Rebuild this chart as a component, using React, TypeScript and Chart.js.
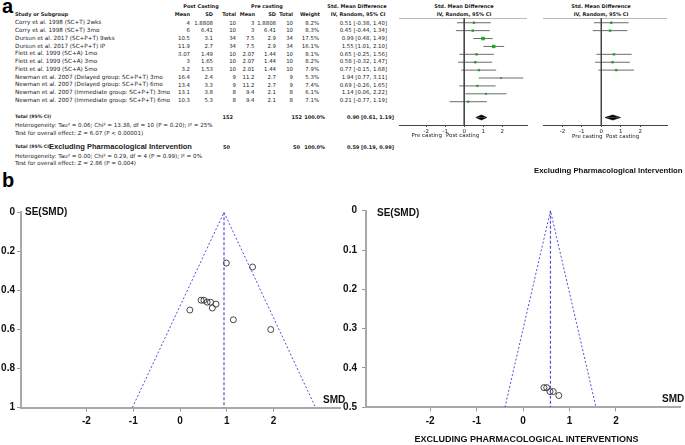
import React, { useEffect, useRef } from 'react';
import { Chart, registerables } from 'chart.js';
Chart.register(...registerables);

// ---------------- DATA ----------------
const studies = [
  'Corry et al. 1998 (SC+T) 2wks',
  'Corry et al. 1998 (SC+T) 3mo',
  'Dursun et al. 2017 (SC+P+T) 9wks',
  'Dursun et al. 2017 (SC+P+T) IP',
  'Flett et al. 1999 (SC+A) 1mo',
  'Flett et al. 1999 (SC+A) 3mo',
  'Flett et al. 1999 (SC+A) 5mo',
  'Newman et al. 2007 (Delayed group: SC+P+T) 3mo',
  'Newman et al. 2007 (Delayed group: SC+P+T) 6mo',
  'Newman et al. 2007 (Immediate group: SC+P+T) 3mo',
  'Newman et al. 2007 (Immediate group: SC+P+T) 6mo',
];
const postMean = ['4', '6', '10.5', '11.9', '3.07', '3', '3.2', '16.4', '13.4', '13.1', '10.3'];
const postSD = ['1.8808', '6.41', '3.1', '2.7', '1.49', '1.65', '1.53', '2.4', '3.3', '3.8', '5.3'];
const postTotal = ['10', '10', '34', '34', '10', '10', '10', '9', '9', '8', '8'];
const preMean = ['3', '3', '7.5', '7.5', '2.07', '2.07', '2.01', '11.2', '11.2', '9.4', '9.4'];
const preSD = ['1.8808', '6.41', '2.9', '2.9', '1.44', '1.44', '1.44', '2.7', '2.7', '2.1', '2.1'];
const preTotal = ['10', '10', '34', '34', '10', '10', '10', '9', '9', '8', '8'];
const weight = [8.2, 8.3, 17.5, 16.1, 8.1, 8.2, 7.9, 5.3, 7.4, 6.1, 7.1];
const smd = [0.51, 0.45, 0.99, 1.55, 0.65, 0.58, 0.77, 1.94, 0.69, 1.14, 0.21];
const ciLow = [-0.38, -0.44, 0.48, 1.01, -0.25, -0.32, -0.15, 0.77, -0.26, 0.06, -0.77];
const ciHigh = [1.4, 1.34, 1.49, 2.1, 1.56, 1.47, 1.68, 3.11, 1.65, 2.22, 1.19];
const seSMD = [0.45, 0.45, 0.26, 0.28, 0.46, 0.46, 0.47, 0.6, 0.49, 0.55, 0.5];

const allIdx = [0, 1, 2, 3, 4, 5, 6, 7, 8, 9, 10];
const nonPharmIdx = [0, 1, 4, 5, 6];

const pooledAll = [0.9, 0.61, 1.19]; // est, low, high
const pooledExcl = [0.59, 0.19, 0.99];

const forestTicks = [-2, -1, 0, 1, 2];
const funnelTicks = [-2, -1, 0, 1, 2];

const funnel1Center = 0.94;
const funnel1Limits = [-1.02, 2.9];
const funnel1SeMax = 1;
const funnel2Center = 0.59;
const funnel2Limits = [-0.39, 1.57];
const funnel2SeMax = 0.5;

// ---------------- STYLE ----------------
const TF = '"DejaVu Sans", Verdana, sans-serif';
const BF = '"Liberation Sans", Arial, sans-serif';
const TXT = '#222';
const ROW = 5.7;
const NUM = 5.4;
const HDR = 5.0;

type TProps = {
  x: number; y: number; size?: number; bold?: boolean; align?: 'left' | 'right' | 'center';
  family?: string; color?: string; children: React.ReactNode;
};
const T = ({ x, y, size = ROW, bold = false, align = 'left', family = TF, color = TXT, children }: TProps) => (
  <div
    style={{
      position: 'absolute', left: x, top: y - size / 2, fontSize: size, lineHeight: `${size}px`,
      fontFamily: family, fontWeight: bold ? 700 : 400, whiteSpace: 'nowrap', color,
      transform: align === 'right' ? 'translateX(-100%)' : align === 'center' ? 'translateX(-50%)' : undefined,
    }}
  >
    {children}
  </div>
);

function ChartBox({ left, top, width, height, make }: { left: number; top: number; width: number; height: number; make: () => any }) {
  const ref = useRef<HTMLCanvasElement>(null);
  useEffect(() => {
    const chart = new Chart(ref.current as HTMLCanvasElement, make());
    return () => chart.destroy();
  }, []);
  return <canvas ref={ref} width={width} height={height} style={{ position: 'absolute', left, top, width, height }} />;
}

const baseOptions = (padding: any) => ({
  animation: false,
  responsive: false,
  maintainAspectRatio: false,
  events: [],
  layout: { padding },
  elements: { point: { radius: 0 }, line: { tension: 0 } },
  plugins: { legend: { display: false }, tooltip: { enabled: false } },
});

function forestConfig(rows: number[], pooled: number[], xMin: number, xMax: number) {
  const yTop = 0.4;
  const yBot = 13.95;
  const totalRow = 13;
  const dh = 0.32;
  const datasets: any[] = [
    { data: [{ x: xMin, y: yTop }, { x: xMax, y: yTop }], borderColor: '#777', borderWidth: 1 },
    { data: [{ x: 0, y: yTop }, { x: 0, y: yBot }], borderColor: '#444', borderWidth: 1 },
  ];
  rows.forEach((i) => {
    datasets.push({ data: [{ x: ciLow[i], y: i + 1 }, { x: ciHigh[i], y: i + 1 }], borderColor: '#6b6b6b', borderWidth: 1 });
  });
  datasets.push({
    data: rows.map((i) => ({ x: smd[i], y: i + 1 })),
    showLine: false,
    pointStyle: 'rect',
    pointRadius: rows.map((i) => 0.6 * Math.sqrt(weight[i])),
    backgroundColor: '#00c400',
    borderWidth: 0,
  });
  const [est, lo, hi] = pooled;
  datasets.push({
    data: [{ x: lo, y: totalRow }, { x: est, y: totalRow - dh }, { x: hi, y: totalRow }],
    borderColor: '#000', borderWidth: 0.6, backgroundColor: '#000', fill: { value: totalRow },
  });
  datasets.push({
    data: [{ x: lo, y: totalRow }, { x: est, y: totalRow + dh }, { x: hi, y: totalRow }],
    borderColor: '#000', borderWidth: 0.6, backgroundColor: '#000', fill: { value: totalRow },
  });
  return {
    type: 'line',
    data: { datasets },
    options: {
      ...baseOptions({ top: 18, left: 0, right: 0, bottom: 0 }),
      scales: {
        x: {
          type: 'linear', min: xMin, max: xMax,
          afterBuildTicks: (s: any) => { s.ticks = forestTicks.map((v) => ({ value: v })); },
          afterFit: (s: any) => { s.height = 15; },
          ticks: { font: { family: TF, size: 5.5 }, color: TXT, padding: 1, autoSkip: false, maxRotation: 0 },
          grid: { drawOnChartArea: false, tickLength: 2, color: '#444' },
          border: { color: '#444', width: 1 },
        },
        y: { type: 'linear', display: false, reverse: true, min: yTop, max: yBot },
      },
    },
  };
}

function funnelConfig(idx: number[], center: number, limits: number[], seMax: number, step: number,
  xMin: number, xMax: number, padTop: number, padRight: number, xH: number, yW: number, yPad: number) {
  const blue = '#5050dc';
  return {
    type: 'line',
    data: {
      datasets: [
        {
          data: [{ x: limits[0], y: seMax }, { x: center, y: 0 }, { x: limits[1], y: seMax }],
          borderColor: blue, borderWidth: 1, borderDash: [2, 2],
        },
        {
          data: [{ x: center, y: 0 }, { x: center, y: seMax }],
          borderColor: blue, borderWidth: 1.2, borderDash: [3, 2],
        },
        {
          data: idx.map((i) => ({ x: smd[i], y: seSMD[i] })),
          showLine: false, pointStyle: 'circle', pointRadius: 3,
          borderColor: '#333', borderWidth: 0.9, backgroundColor: 'rgba(255,255,255,0)',
        },
      ],
    },
    options: {
      ...baseOptions({ top: padTop, right: padRight, left: 0, bottom: 0 }),
      scales: {
        x: {
          type: 'linear', min: xMin, max: xMax,
          afterBuildTicks: (s: any) => { s.ticks = funnelTicks.map((v) => ({ value: v })); },
          afterFit: (s: any) => { s.height = xH; },
          ticks: { font: { family: BF, size: 10, weight: 'bold' }, color: '#111', padding: 4, autoSkip: false, maxRotation: 0 },
          grid: { drawOnChartArea: false, tickLength: 4, color: '#999' },
          border: { color: '#a8a8a8', width: 2 },
        },
        y: {
          type: 'linear', reverse: true, min: 0, max: seMax,
          afterFit: (s: any) => { s.width = yW; },
          ticks: {
            stepSize: step, font: { family: BF, size: 10, weight: 'bold' }, color: '#111', padding: yPad,
            callback: (v: any) => String(Math.round(Number(v) * 10) / 10),
          },
          grid: { drawOnChartArea: false, tickLength: 4, color: '#999' },
          border: { color: '#a8a8a8', width: 2 },
        },
      },
    },
  };
}

const rowY = (i: number) => 23.3 + i * 7.75;
const fmt2 = (v: number) => v.toFixed(2);
const ciText = (e: number, l: number, h: number) => `${fmt2(e)} [${fmt2(l)}, ${fmt2(h)}]`;

export default function App() {
  return (
    <div style={{ position: 'absolute', left: 0, top: 0, width: 685, height: 445, background: '#fff', overflow: 'hidden' }}>
      {/* panel labels */}
      <T x={2} y={6} size={20} bold family={BF} color="#000">a</T>
      <T x={2} y={179.5} size={20} bold family={BF} color="#000">b</T>

      {/* headers */}
      <T x={201} y={6} size={HDR} bold align="center">Post Casting</T>
      <T x={267} y={6} size={HDR} bold align="center">Pre casting</T>
      <T x={357} y={6} size={HDR} bold align="center">Std. Mean Difference</T>
      <T x={358} y={14} size={HDR} bold align="center">IV, Random, 95% CI</T>
      <T x={464} y={6} size={HDR} bold align="center">Std. Mean Difference</T>
      <T x={464} y={14} size={HDR} bold align="center">IV, Random, 95% CI</T>
      <T x={601} y={6} size={HDR} bold align="center">Std. Mean Difference</T>
      <T x={601} y={14} size={HDR} bold align="center">IV, Random, 95% CI</T>
      <T x={15} y={14} size={HDR} bold>Study or Subgroup</T>
      <T x={190} y={14} size={HDR} bold align="right">Mean</T>
      <T x={213} y={14} size={HDR} bold align="right">SD</T>
      <T x={236} y={14} size={HDR} bold align="right">Total</T>
      <T x={255} y={14} size={HDR} bold align="right">Mean</T>
      <T x={276} y={14} size={HDR} bold align="right">SD</T>
      <T x={293} y={14} size={HDR} bold align="right">Total</T>
      <T x={320} y={14} size={HDR} bold align="right">Weight</T>

      {/* rows */}
      {allIdx.map((i) => (
        <React.Fragment key={i}>
          <T x={15} y={rowY(i)}>{studies[i]}</T>
          <T x={190} y={rowY(i)} size={NUM} align="right">{postMean[i]}</T>
          <T x={213} y={rowY(i)} size={NUM} align="right">{postSD[i]}</T>
          <T x={236} y={rowY(i)} size={NUM} align="right">{postTotal[i]}</T>
          <T x={254.5} y={rowY(i)} size={NUM} align="right">{preMean[i]}</T>
          <T x={276} y={rowY(i)} size={NUM} align="right">{preSD[i]}</T>
          <T x={293} y={rowY(i)} size={NUM} align="right">{preTotal[i]}</T>
          <T x={319} y={rowY(i)} size={NUM} align="right">{weight[i].toFixed(1)}%</T>
          <T x={387} y={rowY(i)} size={NUM} align="right">{ciText(smd[i], ciLow[i], ciHigh[i])}</T>
        </React.Fragment>
      ))}

      {/* totals */}
      <T x={15} y={117} size={4.6} bold>Total (95% CI)</T>
      <T x={233} y={117} size={HDR} bold align="right">152</T>
      <T x={302} y={117} size={HDR} bold align="right">152</T>
      <T x={325} y={117} size={HDR} bold align="right">100.0%</T>
      <T x={347} y={117} size={HDR} bold>{ciText(pooledAll[0], pooledAll[1], pooledAll[2])}</T>
      <T x={15} y={126} size={5.6}>Heterogeneity: Tau² = 0.06; Chi² = 13.38, df = 10 (P = 0.20); I² = 25%</T>
      <T x={15} y={134} size={5.6}>Test for overall effect: Z = 6.07 (P &lt; 0.00001)</T>

      <T x={15} y={147} size={4.6} bold>Total (95% CI)</T>
      <T x={49} y={147} size={7.5} bold family={BF}>Excluding Pharmacological Intervention</T>
      <T x={230} y={147} size={HDR} bold align="right">50</T>
      <T x={300} y={147} size={HDR} bold align="right">50</T>
      <T x={325} y={147} size={HDR} bold align="right">100.0%</T>
      <T x={347} y={147} size={HDR} bold>{ciText(pooledExcl[0], pooledExcl[1], pooledExcl[2])}</T>
      <T x={15} y={156.7} size={5.6}>Heterogeneity: Tau² = 0.00; Chi² = 0.29, df = 4 (P = 0.99); I² = 0%</T>
      <T x={15} y={164} size={5.6}>Test for overall effect: Z = 2.86 (P = 0.004)</T>

      {/* forest plots */}
      <ChartBox left={395} top={0} width={136} height={140} make={() => forestConfig(allIdx, pooledAll, -3.43, 3.3)} />
      <ChartBox left={539} top={0} width={132} height={140} make={() => forestConfig(nonPharmIdx, pooledExcl, -3.0, 3.38)} />
      <T x={442} y={136} size={5.5} align="right">Pre casting</T>
      <T x={446} y={136} size={5.5}>Post casting</T>
      <T x={602.5} y={137} size={5.5} align="right">Pre casting</T>
      <T x={606} y={137} size={5.5}>Post casting</T>
      <T x={534} y={171} size={7.8} bold family={BF} color="#111">Excluding Pharmacological Intervention</T>

      {/* funnel plots */}
      <ChartBox left={0} top={190} width={345} height={250}
        make={() => funnelConfig(allIdx, funnel1Center, funnel1Limits, funnel1SeMax, 0.2, -3.4, 3.42, 22.3, 5, 32.3, 21, 2)} />
      <ChartBox left={335} top={190} width={350} height={250}
        make={() => funnelConfig(nonPharmIdx, funnel2Center, funnel2Limits, funnel2SeMax, 0.1, -3.38, 3.38, 20.7, 2, 32.7, 31, 5)} />
      <T x={25} y={212} size={10} bold family={BF} color="#111">SE(SMD)</T>
      <T x={377} y={212.5} size={10} bold family={BF} color="#111">SE(SMD)</T>
      <T x={323} y={400} size={10} bold family={BF} color="#111">SMD</T>
      <T x={662} y={399} size={10} bold family={BF} color="#111">SMD</T>
      <T x={526.5} y={439.5} size={9} bold align="center" family={BF} color="#111">EXCLUDING PHARMACOLOGICAL INTERVENTIONS</T>
    </div>
  );
}
